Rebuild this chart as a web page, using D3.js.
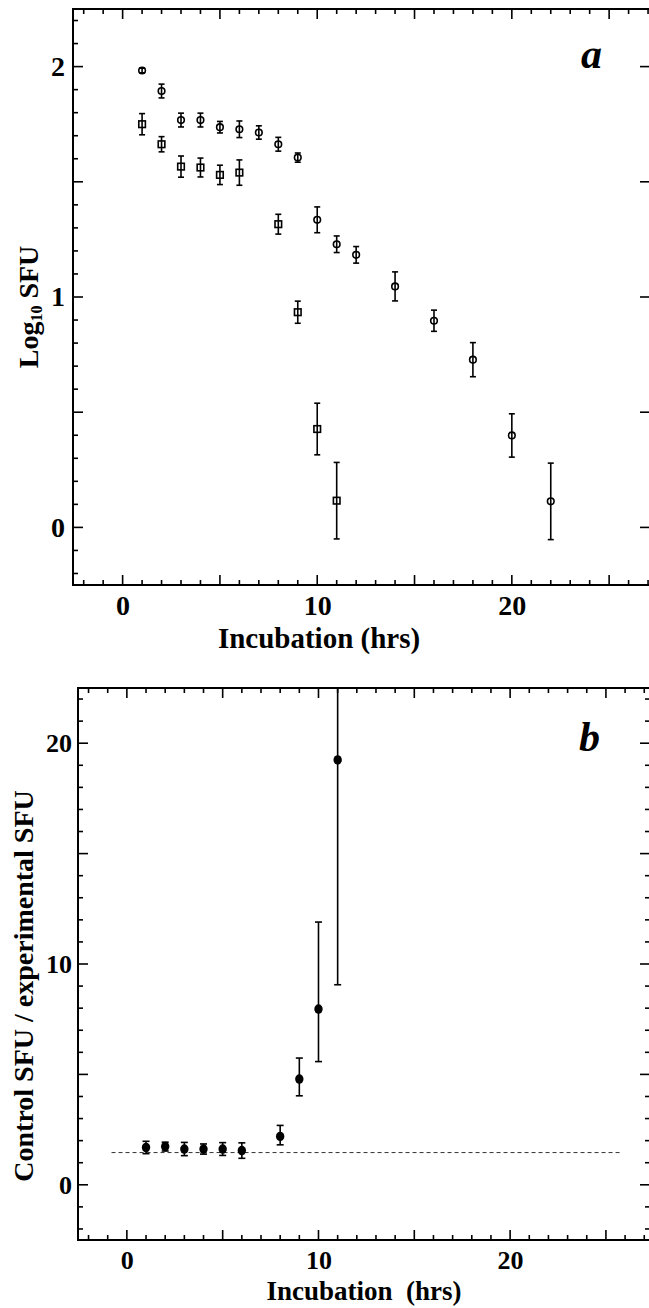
<!DOCTYPE html>
<html>
<head>
<meta charset="utf-8">
<script src="https://cdn.jsdelivr.net/npm/d3@7"></script>
<style>
  body { margin: 0; background: #fff; }
  svg { display: block; }
  text { font-family: "Liberation Serif", "Times New Roman", serif; font-weight: bold; fill: #000; }
</style>
</head>
<body>
<div id="chart"></div>
<script>
// Panel a: log10 SFU, two series (open circles / open squares)
const hoursCircle = [1, 2, 3, 4, 5, 6, 7, 8, 9, 10, 11, 12, 14, 16, 18, 20, 22];
const logCircle = [1.983, 1.894, 1.768, 1.768, 1.737, 1.728, 1.714, 1.663, 1.605, 1.335, 1.229, 1.183, 1.046, 0.897, 0.728, 0.399, 0.113];
const errCircle = [0.01, 0.03, 0.03, 0.03, 0.025, 0.036, 0.029, 0.03, 0.02, 0.056, 0.036, 0.036, 0.063, 0.046, 0.074, 0.094, 0.166];

const hoursSquare = [1, 2, 3, 4, 5, 6, 8, 9, 10, 11];
const logSquare = [1.750, 1.663, 1.566, 1.562, 1.530, 1.540, 1.316, 0.934, 0.427, 0.116];
const errSquare = [0.046, 0.033, 0.046, 0.041, 0.042, 0.055, 0.043, 0.048, 0.112, 0.166];

// Panel b: control SFU / experimental SFU
const hoursRatio = [1, 2, 3, 4, 5, 6, 8, 9, 10, 11];
const ratio = [1.69, 1.73, 1.62, 1.62, 1.62, 1.55, 2.19, 4.79, 7.96, 19.24];
const ratioLow = [1.41, 1.53, 1.32, 1.39, 1.33, 1.20, 1.81, 4.03, 5.58, 9.06];
const ratioHigh = [1.97, 1.93, 1.92, 1.85, 1.91, 1.90, 2.69, 5.74, 11.9, 25];
const baseline = 1.46;
const baselineSpan = [-0.8, 25.8];

const xTicksMajor = [0, 5, 10, 15, 20, 25];
const xTickLabels = [0, 10, 20];

const W = 649, H = 1308;
const svg = d3.select('#chart').append('svg')
    .attr('width', W)
    .attr('height', H);

// draw inward ticks for one side of a frame
function ticks(g, scale, values, len, side, x0, y0) {
    values.forEach(v => {
        const p = scale(v);
        if (side === 'left') g.append('line').attr('x1', x0).attr('x2', x0 + len).attr('y1', p).attr('y2', p);
        if (side === 'right') g.append('line').attr('x1', x0).attr('x2', x0 - len).attr('y1', p).attr('y2', p);
        if (side === 'top') g.append('line').attr('x1', p).attr('x2', p).attr('y1', y0).attr('y2', y0 + len);
        if (side === 'bottom') g.append('line').attr('x1', p).attr('x2', p).attr('y1', y0).attr('y2', y0 - len);
    });
}

function frame(cfg) {
    const x = d3.scaleLinear().domain(cfg.xDomain).range([cfg.left, cfg.right]);
    const y = d3.scaleLinear().domain(cfg.yDomain).range([cfg.bottom, cfg.top]);
    const g = svg.append('g');

    const tg = g.append('g').attr('stroke', '#000').attr('stroke-width', 1.6);
    const xMinor = d3.range(Math.ceil(cfg.xDomain[0]), Math.floor(cfg.xDomain[1]) + 1).filter(d => d % 5 !== 0);
    ticks(tg, x, xMinor, 5, 'top', 0, cfg.top);
    ticks(tg, x, xMinor, 5, 'bottom', 0, cfg.bottom);
    ticks(tg, x, xTicksMajor, 10, 'top', 0, cfg.top);
    ticks(tg, x, xTicksMajor, 10, 'bottom', 0, cfg.bottom);
    ticks(tg, y, cfg.yMinor, 5, 'left', cfg.left, 0);
    ticks(tg, y, cfg.yMajor, 10, 'left', cfg.left, 0);
    if (cfg.rightMinor) ticks(tg, y, cfg.yMinor, 5, 'right', cfg.right, 0);
    ticks(tg, y, cfg.yMajor, 10, 'right', cfg.right, 0);

    g.append('rect')
        .attr('x', cfg.left).attr('y', cfg.top)
        .attr('width', cfg.right - cfg.left).attr('height', cfg.bottom - cfg.top)
        .attr('fill', 'none').attr('stroke', '#000').attr('stroke-width', 2);

    // tick labels via d3 axes (no tick lines, no domain)
    const xAxis = g.append('g')
        .attr('transform', 'translate(0,' + cfg.bottom + ')')
        .call(d3.axisBottom(x).tickValues(xTickLabels).tickFormat(d3.format('d')).tickSize(0).tickPadding(cfg.xPad));
    const yAxis = g.append('g')
        .attr('transform', 'translate(' + cfg.left + ',0)')
        .call(d3.axisLeft(y).tickValues(cfg.yLabels).tickFormat(d3.format('d')).tickSize(0).tickPadding(cfg.yPad));
    [xAxis, yAxis].forEach(a => {
        a.select('.domain').remove();
        a.selectAll('text')
            .attr('font-family', '"Liberation Serif", serif')
            .attr('font-weight', 'bold')
            .attr('font-size', cfg.tickFont)
            .attr('fill', '#000');
    });

    g.append('text')
        .attr('x', cfg.xTitleX).attr('y', cfg.xTitleY)
        .attr('text-anchor', 'middle')
        .attr('font-size', cfg.titleFont)
        .style('white-space', 'pre')
        .text(cfg.xTitle);

    g.append('text')
        .attr('x', cfg.tagX).attr('y', cfg.tagY)
        .attr('font-size', 42)
        .attr('font-style', 'italic')
        .text(cfg.tag);

    const clipId = 'clip' + cfg.tag;
    svg.append('defs').append('clipPath').attr('id', clipId)
        .append('rect')
        .attr('x', cfg.left).attr('y', cfg.top)
        .attr('width', cfg.right - cfg.left).attr('height', cfg.bottom - cfg.top);
    const plot = g.append('g').attr('clip-path', 'url(#' + clipId + ')');
    return { x, y, g, plot };
}

function errorBars(plot, x, y, xs, lo, hi, cap, width) {
    const eg = plot.append('g').attr('stroke', '#000').attr('stroke-width', width);
    xs.forEach((h, i) => {
        const cx = x(h);
        eg.append('line').attr('x1', cx).attr('x2', cx).attr('y1', y(lo[i])).attr('y2', y(hi[i]));
        eg.append('line').attr('x1', cx - cap).attr('x2', cx + cap).attr('y1', y(lo[i])).attr('y2', y(lo[i]));
        eg.append('line').attr('x1', cx - cap).attr('x2', cx + cap).attr('y1', y(hi[i])).attr('y2', y(hi[i]));
    });
}

// ---- panel a ----
const a = frame({
    tag: 'a', left: 73, right: 650, top: 9, bottom: 585,
    xDomain: [-2.55, 27.1], yDomain: [-0.25, 2.25],
    yMajor: [0, 0.5, 1, 1.5, 2],
    yMinor: d3.range(-2, 23).map(d => d / 10).filter(d => Math.round(d * 10) % 5 !== 0),
    yLabels: [0, 1, 2], rightMinor: false,
    xPad: 10, yPad: 8, tickFont: 28, titleFont: 29,
    xTitle: 'Incubation (hrs)', xTitleX: 319, xTitleY: 648,
    tagX: 581, tagY: 68
});

errorBars(a.plot, a.x, a.y, hoursCircle,
    logCircle.map((v, i) => v - errCircle[i]), logCircle.map((v, i) => v + errCircle[i]), 3, 1.6);
errorBars(a.plot, a.x, a.y, hoursSquare,
    logSquare.map((v, i) => v - errSquare[i]), logSquare.map((v, i) => v + errSquare[i]), 3, 1.6);

a.plot.append('g').selectAll('circle')
    .data(hoursCircle)
    .enter().append('circle')
    .attr('cx', d => a.x(d))
    .attr('cy', (d, i) => a.y(logCircle[i]))
    .attr('r', 3.3)
    .attr('fill', 'none').attr('stroke', '#000').attr('stroke-width', 1.6);

a.plot.append('g').selectAll('rect')
    .data(hoursSquare)
    .enter().append('rect')
    .attr('x', d => a.x(d) - 3.3)
    .attr('y', (d, i) => a.y(logSquare[i]) - 3.3)
    .attr('width', 6.6).attr('height', 6.6)
    .attr('fill', 'none').attr('stroke', '#000').attr('stroke-width', 1.6);

// y title with subscript
const ya = a.g.append('text')
    .attr('transform', 'translate(38,307) rotate(-90)')
    .attr('text-anchor', 'middle')
    .attr('font-size', 28);
ya.append('tspan').text('Log');
ya.append('tspan').attr('font-size', 16).attr('dy', 4).text('10');
ya.append('tspan').attr('dy', -4).attr('dx', 7).text('SFU');

// ---- panel b ----
const b = frame({
    tag: 'b', left: 78, right: 650, top: 688, bottom: 1240,
    xDomain: [-2.55, 27.3], yDomain: [-2.5, 22.5],
    yMajor: [0, 5, 10, 15, 20],
    yMinor: d3.range(-2, 23).filter(d => d % 5 !== 0),
    yLabels: [0, 10, 20], rightMinor: true,
    xPad: 11, yPad: 6, tickFont: 26, titleFont: 27,
    xTitle: 'Incubation  (hrs)', xTitleX: 364, xTitleY: 1300,
    tagX: 579, tagY: 751
});

b.plot.append('line')
    .attr('x1', b.x(baselineSpan[0])).attr('x2', b.x(baselineSpan[1]))
    .attr('y1', b.y(baseline)).attr('y2', b.y(baseline))
    .attr('stroke', '#333').attr('stroke-width', 1)
    .attr('stroke-dasharray', '4,3');

errorBars(b.plot, b.x, b.y, hoursRatio, ratioLow, ratioHigh, 3.5, 1.6);

b.plot.append('g').selectAll('ellipse')
    .data(hoursRatio)
    .enter().append('ellipse')
    .attr('cx', d => b.x(d))
    .attr('cy', (d, i) => b.y(ratio[i]))
    .attr('rx', 4.2).attr('ry', 4.8)
    .attr('fill', '#000');

b.g.append('text')
    .attr('transform', 'translate(33,986) rotate(-90)')
    .attr('text-anchor', 'middle')
    .attr('font-size', 28)
    .text('Control SFU / experimental SFU');
</script>
</body>
</html>
